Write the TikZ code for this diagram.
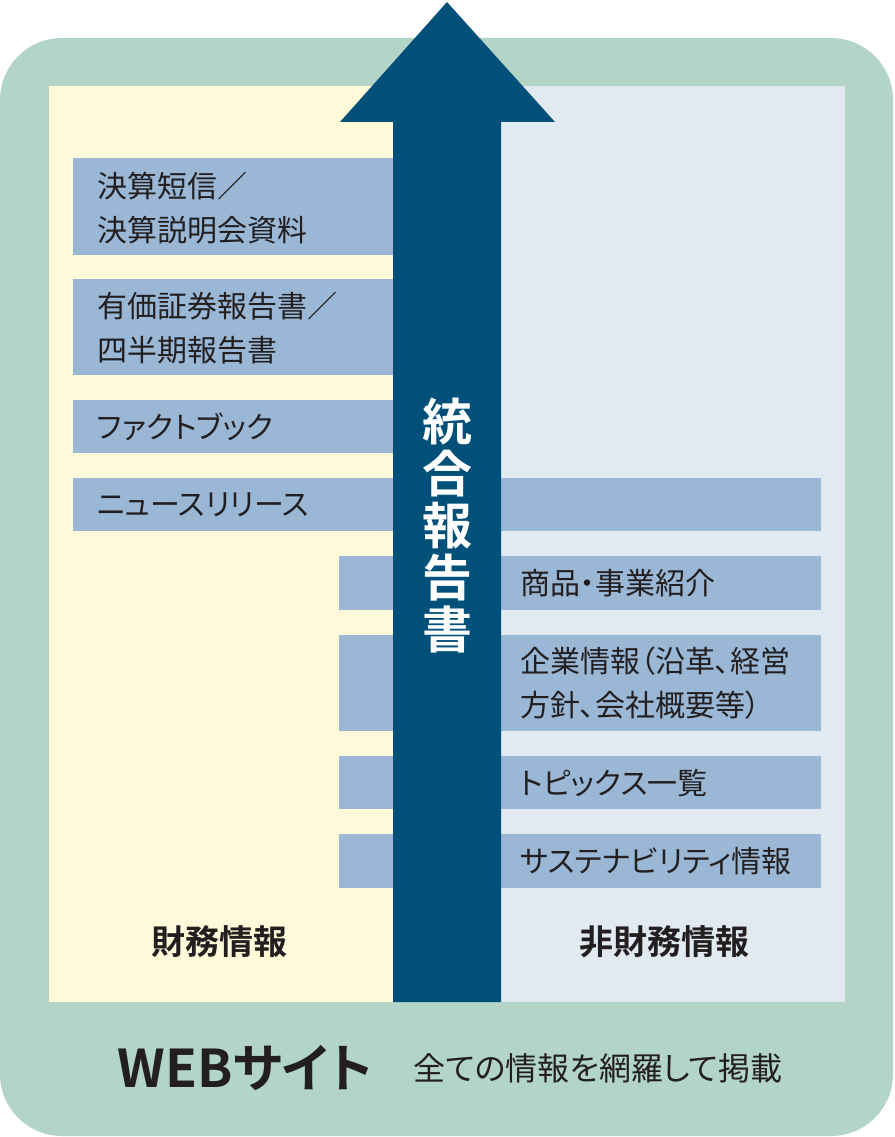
\documentclass[tikz,border=0pt]{standalone}
\usepackage{fontspec}
\newfontfamily\jp[RawFeature=+palt]{Noto Sans CJK JP}
\newfontfamily\jpb[RawFeature=+palt]{Noto Sans CJK JP Bold}
\definecolor{outergreen}{HTML}{B3D5C8}
\definecolor{finyellow}{HTML}{FEF9D8}
\definecolor{nonfinblue}{HTML}{E1E9F1}
\definecolor{itemblue}{HTML}{9AB8D6}
\definecolor{arrowblue}{HTML}{00507A}
\definecolor{txt}{HTML}{231F20}
\tikzset{
  itembox/.style={fill=itemblue, draw=none, anchor=north west, inner sep=0pt},
  itemtext/.style={anchor=west, inner sep=0pt, align=left, text=txt, font=\jp\fontsize{30}{44}\selectfont},
  catlabel/.style={inner sep=0pt, text=txt, font=\jpb\fontsize{34}{40}\selectfont},
}
\begin{document}
\begin{tikzpicture}[x=1pt,y=-1pt]
\useasboundingbox (0,0) rectangle (894,1137);
% outer WEB frame
\fill[outergreen, rounded corners=62pt] (0,38) rectangle (893,1136);
% areas
\fill[finyellow] (49,86) rectangle (393,1002);
\fill[nonfinblue] (501,86) rectangle (845,1002);
% item boxes
\node[itembox, minimum width=320pt, minimum height=97pt] (b1) at (73,158) {};
\node[itembox, minimum width=320pt, minimum height=96pt] (b2) at (73,279) {};
\node[itembox, minimum width=320pt, minimum height=53pt] (b3) at (73,400) {};
\node[itembox, minimum width=748pt, minimum height=53pt] (b4) at (73,478) {};
\node[itembox, minimum width=482pt, minimum height=54pt] (b5) at (339,556) {};
\node[itembox, minimum width=482pt, minimum height=96pt] (b6) at (339,635) {};
\node[itembox, minimum width=482pt, minimum height=53pt] (b7) at (339,756) {};
\node[itembox, minimum width=482pt, minimum height=54pt] (b8) at (339,834) {};
% arrow
\fill[arrowblue] (393,1002) -- (393,122) -- (340,122) -- (447,2) -- (555,122) -- (501,122) -- (501,1002) -- cycle;
% item texts
\node[itemtext] (t1) at (97,208) {決算短信／\\決算説明会資料};
\node[itemtext] (t2) at (97,328) {有価証券報告書／\\四半期報告書};
\node[itemtext] (t3) at (97,427) {ファクトブック};
\node[itemtext] (t4) at (97,505) {ニュースリリース};
\node[itemtext] (t5) at (520,583) {商品・事業紹介};
\node[itemtext] (t6) at (520,683) {企業情報（沿革、経営\\方針、会社概要等）};
\node[itemtext] (t7) at (520,783) {トピックス一覧};
\node[itemtext] (t8) at (520,861) {サステナビリティ情報};
% vertical title
\node[inner sep=0pt, align=center, text=white, font=\jpb\fontsize{50}{52}\selectfont] (title) at (447,526) {統\\合\\報\\告\\書};
% category labels
\node[catlabel] (fin) at (219,942) {財務情報};
\node[catlabel] (nonfin) at (664,942) {非財務情報};
% bottom
\node[inner sep=0pt, text=txt, font=\jpb\fontsize{52}{58}\selectfont] (web) at (245,1068) {WEBサイト};
\node[inner sep=0pt, text=txt, font=\jp\fontsize{32}{40}\selectfont] (webnote) at (598,1068) {全ての情報を網羅して掲載};
\end{tikzpicture}
\end{document}
